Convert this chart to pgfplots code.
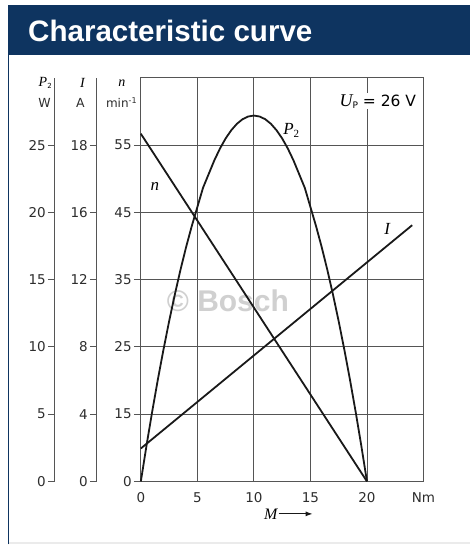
\documentclass[border=0pt]{standalone}
\usepackage{pgfplots}
\pgfplotsset{compat=1.18}
\usepackage{fontspec}
\setmainfont{Liberation Sans}
\newfontfamily\serif{Liberation Serif}
\newfontfamily\lab{DejaVu Sans}
\usetikzlibrary{arrows.meta}
\definecolor{boschblue}{RGB}{14,52,96}
\definecolor{curve}{RGB}{25,25,25}
\definecolor{gridc}{RGB}{85,85,85}
\definecolor{txt}{RGB}{45,45,45}
\definecolor{wmark}{RGB}{208,208,208}

% motor curves: torque M in Nm, values on the P2 scale (W)
\pgfplotstableread{
M P
0 0
0.5 2.65
1 5.17
1.5 7.55
2 9.79
2.5 11.90
3 13.87
3.5 15.71
4 17.41
4.5 18.97
5 20.40
5.5 21.83
6 22.85
6.5 23.87
7 24.75
7.5 25.50
8 26.11
8.5 26.59
9 26.93
9.5 27.13
10 27.20
10.5 27.13
11 26.93
11.5 26.59
12 26.11
12.5 25.50
13 24.75
13.5 23.87
14 22.85
14.5 21.83
15 20.40
15.5 18.97
16 17.41
16.5 15.71
17 13.87
17.5 11.90
18 9.79
18.5 7.55
19 5.17
19.5 2.65
20 0
}\powertable
\pgfplotstableread{
M n
0 25.85
20 0
}\speedtable
\pgfplotstableread{
M I
0 2.45
24 19.05
}\currenttable

\pgfplotsset{
  sidescale/.style={
    at={(#1,63pt)}, anchor=south west, scale only axis,
    width=2pt, height=404pt,
    xmin=0, xmax=1, ymin=0, ymax=30,
    hide x axis, axis y line*=left,
    axis line style={gridc, line width=0.9pt},
    ytick={0,5,10,15,20,25},
    tick align=outside, major tick length=7pt,
    ytick style={gridc, line width=0.9pt},
    yticklabel style={font=\lab\fontsize{13.5}{14}\selectfont, text=txt, inner sep=2pt},
    /pgf/number format/assume math mode=true,
  }
}

\begin{document}
\begin{tikzpicture}
\fill[white] (0pt,0pt) rectangle (471pt,545pt);

% title bar and panel frame
\fill[boschblue] (8pt,490pt) rectangle (471pt,540pt);
\node[anchor=base west, text=white, inner sep=0,
      font=\fontsize{29.6}{31}\selectfont\bfseries] at (28pt,503pt) {Characteristic curve};
\draw[boschblue, line width=1.3pt] (8.65pt,0pt) -- (8.65pt,490pt);
\fill[black!8] (9.3pt,0pt) rectangle (471pt,2.5pt);

% P2 scale
\begin{axis}[sidescale=55pt, yticklabels={0,5,10,15,20,25}]
\end{axis}
% I scale
\begin{axis}[sidescale=97pt, yticklabels={0,4,8,12,16,18}]
\end{axis}

% scale headings
\node[anchor=east, inner sep=0, font=\fontsize{14}{15}\selectfont] at (52pt,462pt)
  {{\serif\itshape P}\raisebox{-0.35ex}{\lab\fontsize{7}{8}\selectfont 2}};
\node[anchor=east, inner sep=0, text=txt, font=\lab\fontsize{12.5}{14}\selectfont] at (51pt,442pt) {W};
\node[anchor=east, inner sep=0, font=\fontsize{14}{15}\selectfont] at (85pt,462pt) {\serif\itshape I};
\node[anchor=east, inner sep=0, text=txt, font=\lab\fontsize{12.5}{14}\selectfont] at (85pt,442pt) {A};
\node[inner sep=0, font=\fontsize{14}{15}\selectfont] at (122pt,462pt) {\serif\itshape n};
\node[anchor=east, inner sep=0, text=txt, font=\lab\fontsize{12}{14}\selectfont] at (137.5pt,442pt)
  {min\textsuperscript{-1}};

\begin{axis}[
  at={(141pt,63pt)}, anchor=south west, scale only axis,
  width=283pt, height=404pt,
  xmin=0, xmax=25, ymin=0, ymax=30,
  xtick={0,5,10,15,20,25}, xticklabels={0,5,10,15,20,Nm},
  ytick={0,5,10,15,20,25}, yticklabels={0,15,25,35,45,55},
  grid=major, grid style={gridc, line width=0.9pt},
  axis line style={gridc, line width=1pt},
  ytick pos=left, tick align=outside, major tick length=7pt,
  ytick style={gridc, line width=0.9pt},
  xtick style={draw=none},
  xticklabel style={font=\lab\fontsize{13.5}{14}\selectfont, text=txt, yshift=-0.5pt},
  yticklabel style={font=\lab\fontsize{13.5}{14}\selectfont, text=txt, inner sep=2pt},
  /pgf/number format/assume math mode=true,
  clip=false,
]
\node[text=wmark, font=\fontsize{30}{32}\selectfont\bfseries] at (axis cs:7.7,13.4) {© Bosch};
\addplot[curve, line width=1.8pt] table[x=M, y=P] {\powertable};
\addplot[curve, line width=1.8pt] table[x=M, y=n] {\speedtable};
\addplot[curve, line width=1.8pt] table[x=M, y=I] {\currenttable};
\node[font=\fontsize{17}{18}\selectfont] at (axis cs:13.3,26.1)
  {{\serif\itshape P}\raisebox{-0.35ex}{\fontsize{11}{12}\selectfont\serif 2}};
\node[font=\fontsize{17}{18}\selectfont] at (axis cs:1.25,21.9) {\serif\itshape n};
\node[font=\fontsize{17}{18}\selectfont] at (axis cs:21.8,18.8) {\serif\itshape I};
\node[anchor=east, fill=white, inner sep=1pt, font=\lab\fontsize{15.5}{18}\selectfont]
  at (axis cs:24.45,28.25)
  {{\serif\itshape\fontsize{18}{18}\selectfont U}\raisebox{-0.25ex}{\fontsize{9}{10}\selectfont P}\ = 26 V};
\end{axis}

% torque label with arrow
\node[anchor=east, inner sep=0, font=\fontsize{16}{18}\selectfont] at (278pt,30.5pt) {\serif\itshape M};
\draw[curve, line width=1pt, -{Latex[length=7pt,width=5pt]}] (279pt,30.5pt) -- (313pt,30.5pt);
\end{tikzpicture}
\end{document}
